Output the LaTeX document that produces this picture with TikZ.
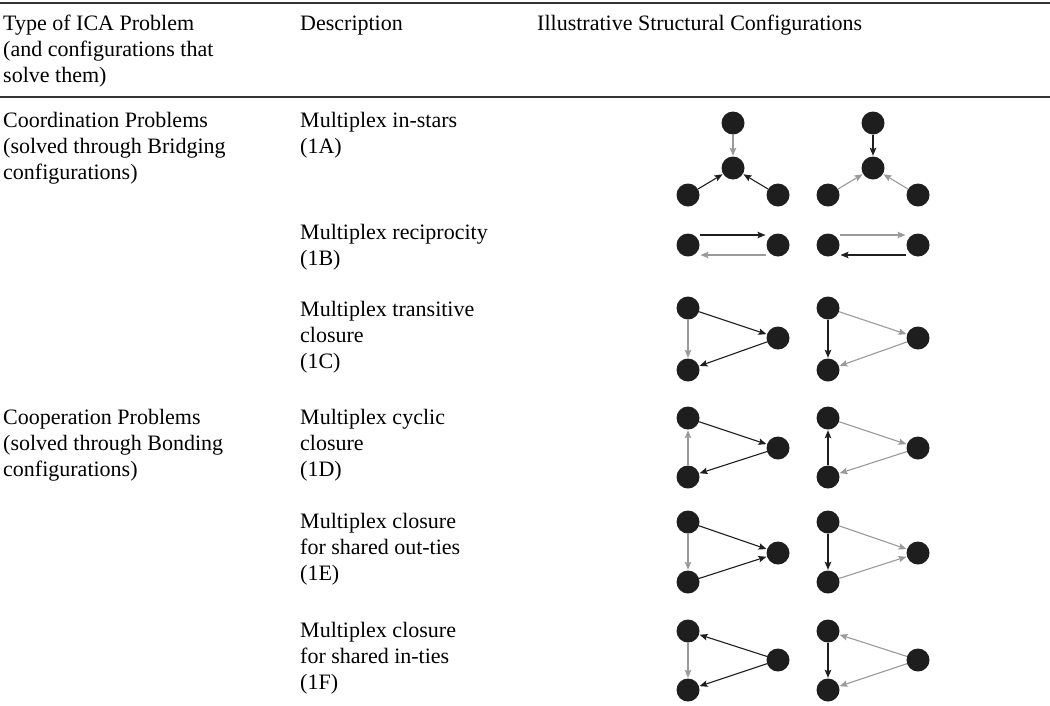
\documentclass[tikz,border=0pt]{standalone}
\usepackage{fontspec}
\setmainfont{Liberation Serif}
\usetikzlibrary{arrows.meta,calc}
\definecolor{dotfill}{HTML}{1E1E1E}
\definecolor{greyedge}{HTML}{9A9A9A}
\definecolor{darkedge}{HTML}{1E1E1E}
\definecolor{rulecol}{HTML}{333333}
\begin{document}
\begin{tikzpicture}[x=1pt,y=-1pt,
  txt/.style={anchor=base west, inner sep=0pt, font=\fontsize{22}{26}\selectfont},
  dot/.style={circle, fill=dotfill, minimum size=23pt, inner sep=0pt},
  ge/.style={draw=greyedge, line width=1.1pt, -{Stealth[length=8pt,width=6.5pt,inset=1.5pt]}, shorten >=0.5pt},
  be/.style={draw=darkedge, line width=1.1pt, -{Stealth[length=8pt,width=6.5pt,inset=1.5pt]}, shorten >=0.5pt},
  hrule/.style={draw=rulecol, line width=1.3pt}]
\useasboundingbox (0,0) rectangle (1050,705);
% rules
\coordinate (r1l) at (0,3); \coordinate (r1r) at (1050,3);
\coordinate (r2l) at (0,97); \coordinate (r2r) at (1050,97);
\draw[hrule] (r1l) -- (r1r);
\draw[hrule] (r2l) -- (r2r);
% header
\node[txt] (h11) at (3,30) {Type of ICA Problem};
\node[txt] (h12) at (3,56) {(and configurations that};
\node[txt] (h13) at (3,82) {solve them)};
\node[txt] (h2) at (300,30) {Description};
\node[txt] (h3) at (537,30) {Illustrative Structural Configurations};
% column 1
\node[txt] (c11) at (3,127) {Coordination Problems};
\node[txt] (c12) at (3,153) {(solved through Bridging};
\node[txt] (c13) at (3,179) {configurations)};
\node[txt] (c21) at (3,424) {Cooperation Problems};
\node[txt] (c22) at (3,450) {(solved through Bonding};
\node[txt] (c23) at (3,476) {configurations)};
% column 2
\node[txt] (a1) at (300,127) {Multiplex in-stars};
\node[txt] (a2) at (300,153) {(1A)};
\node[txt] (b1) at (300,239) {Multiplex reciprocity};
\node[txt] (b2) at (300,265) {(1B)};
\node[txt] (cc1) at (300,316) {Multiplex transitive};
\node[txt] (cc2) at (300,342) {closure};
\node[txt] (cc3) at (300,368) {(1C)};
\node[txt] (d1) at (300,424) {Multiplex cyclic};
\node[txt] (d2) at (300,450) {closure};
\node[txt] (d3) at (300,476) {(1D)};
\node[txt] (e1) at (300,528) {Multiplex closure};
\node[txt] (e2) at (300,554) {for shared out-ties};
\node[txt] (e3) at (300,580) {(1E)};
\node[txt] (f1) at (300,637) {Multiplex closure};
\node[txt] (f2) at (300,663) {for shared in-ties};
\node[txt] (f3) at (300,689) {(1F)};
% ---- 1A in-stars
\node[dot] (A1t) at (733,123) {}; \node[dot] (A1c) at (733,168) {};
\node[dot] (A1l) at (688,195) {}; \node[dot] (A1r) at (778,195) {};
\draw[ge] (A1t) -- (A1c); \draw[be] (A1l) -- (A1c); \draw[be] (A1r) -- (A1c);
\node[dot] (A2t) at (873,123) {}; \node[dot] (A2c) at (873,168) {};
\node[dot] (A2l) at (828,195) {}; \node[dot] (A2r) at (918,195) {};
\draw[be] (A2t) -- (A2c); \draw[ge] (A2l) -- (A2c); \draw[ge] (A2r) -- (A2c);
% ---- 1B reciprocity
\node[dot] (B1l) at (688,245) {}; \node[dot] (B1r) at (778,245) {};
\draw[be] ($(B1l)+(12,-10)$) -- ($(B1r)+(-12,-10)$);
\draw[ge] ($(B1r)+(-12,10)$) -- ($(B1l)+(12,10)$);
\node[dot] (B2l) at (828,245) {}; \node[dot] (B2r) at (918,245) {};
\draw[ge] ($(B2l)+(12,-10)$) -- ($(B2r)+(-12,-10)$);
\draw[be] ($(B2r)+(-12,10)$) -- ($(B2l)+(12,10)$);
% ---- 1C transitive closure
\node[dot] (C1a) at (688,308) {}; \node[dot] (C1b) at (778,338) {}; \node[dot] (C1c) at (688,370) {};
\draw[be] (C1a) -- (C1b); \draw[ge] (C1a) -- (C1c); \draw[be] (C1b) -- (C1c);
\node[dot] (C2a) at (828,308) {}; \node[dot] (C2b) at (918,338) {}; \node[dot] (C2c) at (828,370) {};
\draw[ge] (C2a) -- (C2b); \draw[be] (C2a) -- (C2c); \draw[ge] (C2b) -- (C2c);
% ---- 1D cyclic closure
\node[dot] (D1a) at (688,418) {}; \node[dot] (D1b) at (778,448) {}; \node[dot] (D1c) at (688,477) {};
\draw[be] (D1a) -- (D1b); \draw[ge] (D1c) -- (D1a); \draw[be] (D1b) -- (D1c);
\node[dot] (D2a) at (828,418) {}; \node[dot] (D2b) at (918,448) {}; \node[dot] (D2c) at (828,477) {};
\draw[ge] (D2a) -- (D2b); \draw[be] (D2c) -- (D2a); \draw[ge] (D2b) -- (D2c);
% ---- 1E shared out-ties
\node[dot] (E1a) at (688,522) {}; \node[dot] (E1b) at (778,553) {}; \node[dot] (E1c) at (688,582) {};
\draw[be] (E1a) -- (E1b); \draw[ge] (E1a) -- (E1c); \draw[be] (E1c) -- (E1b);
\node[dot] (E2a) at (828,522) {}; \node[dot] (E2b) at (918,553) {}; \node[dot] (E2c) at (828,582) {};
\draw[ge] (E2a) -- (E2b); \draw[be] (E2a) -- (E2c); \draw[ge] (E2c) -- (E2b);
% ---- 1F shared in-ties
\node[dot] (F1a) at (688,631) {}; \node[dot] (F1b) at (778,660) {}; \node[dot] (F1c) at (688,690) {};
\draw[be] (F1b) -- (F1a); \draw[ge] (F1a) -- (F1c); \draw[be] (F1b) -- (F1c);
\node[dot] (F2a) at (828,631) {}; \node[dot] (F2b) at (918,660) {}; \node[dot] (F2c) at (828,690) {};
\draw[ge] (F2b) -- (F2a); \draw[be] (F2a) -- (F2c); \draw[ge] (F2b) -- (F2c);
\end{tikzpicture}
\end{document}
